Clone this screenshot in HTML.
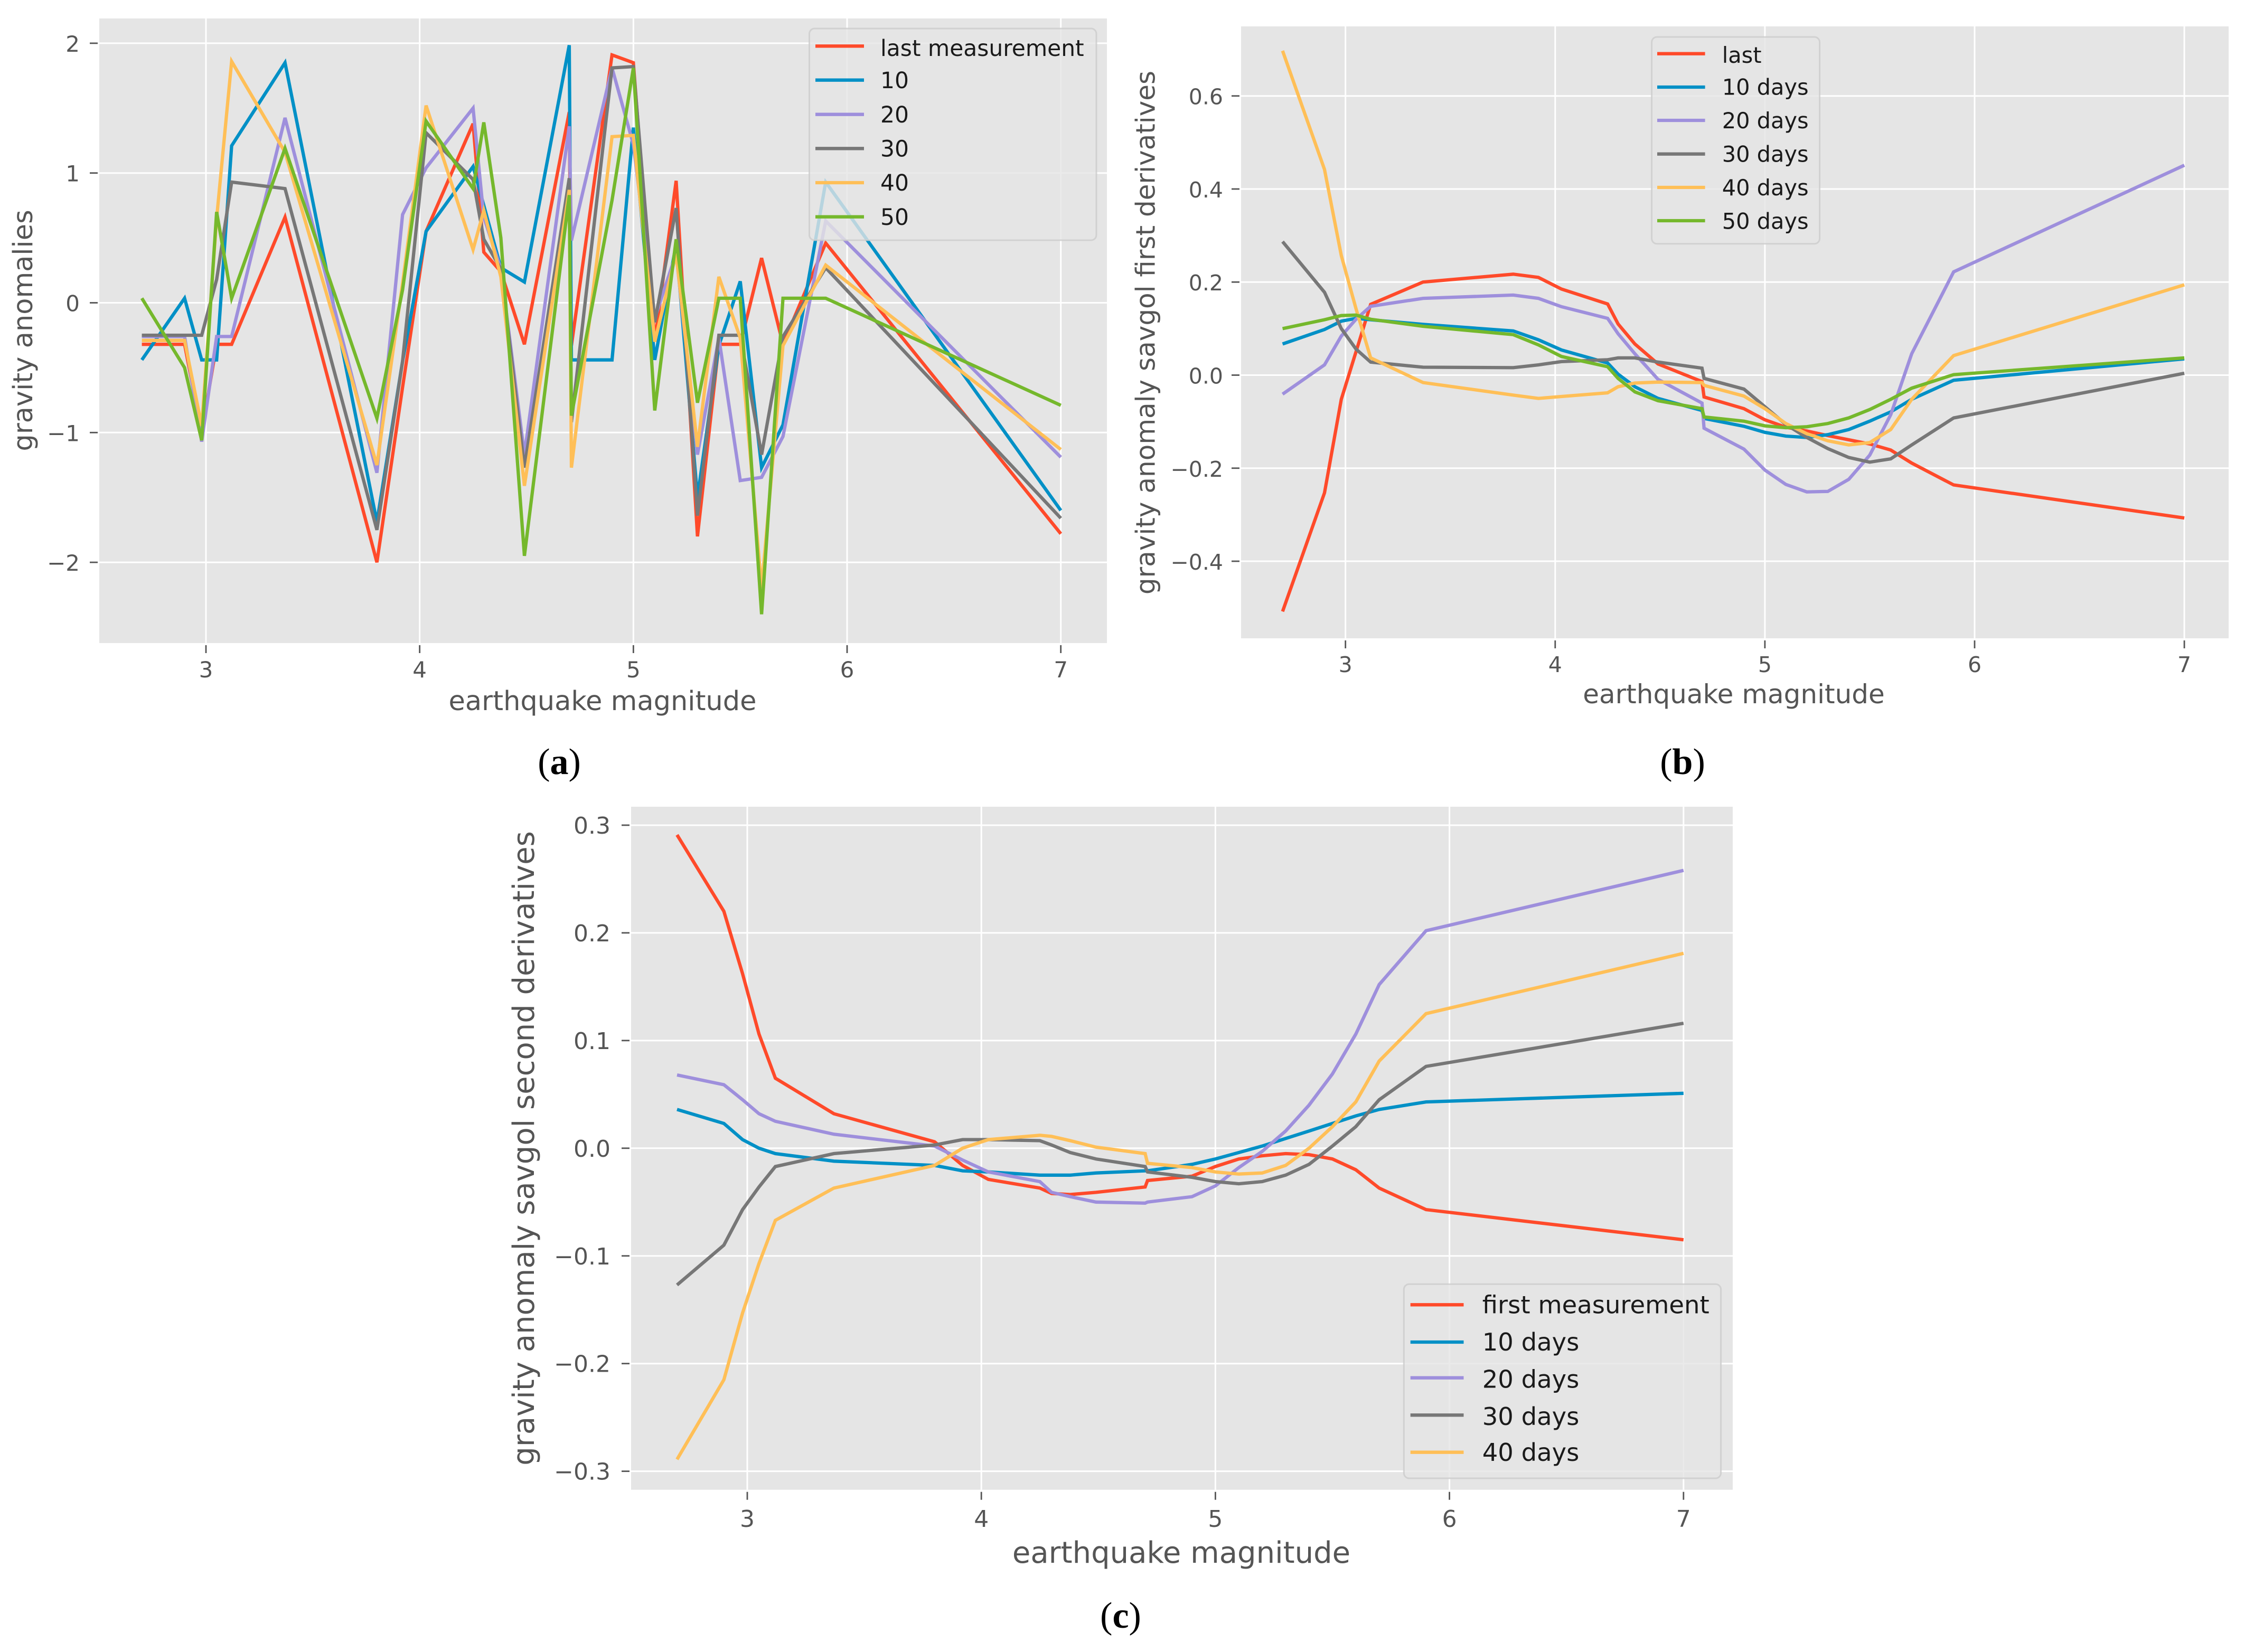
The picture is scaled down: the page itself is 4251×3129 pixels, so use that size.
<!DOCTYPE html>
<html lang="en">
<head>
<meta charset="utf-8">
<title>Gravity anomalies versus earthquake magnitude</title>
<style>
html,body{margin:0;padding:0;background:#fff;width:4251px;height:3129px;overflow:hidden}
svg{display:block}
text{font-family:"DejaVu Sans","Liberation Sans",sans-serif}
.plot{fill:#e5e5e5}
.grid{stroke:#fff;stroke-width:3}
.tick{stroke:#555;stroke-width:2.8}
.ticklabel{fill:#555}
.axis-title{fill:#555}
.line{fill:none;stroke-width:6.3;stroke-linejoin:miter;stroke-miterlimit:4}
.red{stroke:#ff4a2a}.blue{stroke:#0090c6}.purple{stroke:#9e8fdc}.gray{stroke:#777}.yellow{stroke:#ffbf57}.green{stroke:#75b82c}
.legend-box{fill:#e5e5e5;fill-opacity:.8;stroke:#ccc;stroke-opacity:.8;stroke-width:3}
.legend-handle{stroke-width:6.3}
.legend-text{fill:#1a1a1a}
.caption{font-family:"Liberation Serif",serif;font-size:70px;fill:#000}
</style>
</head>
<body>
<svg xmlns="http://www.w3.org/2000/svg" width="4251" height="3129" viewBox="0 0 4251 3129">
<rect width="4251" height="3129" fill="#fff"/>

<g>
  <rect class="plot" x="188" y="35" width="1908" height="1183"/>
  <g id="a-axes"></g>
  <g id="a-lines"></g>
  <text class="axis-title" x="1141" y="1345" font-size="51" text-anchor="middle">earthquake magnitude</text>
  <text class="axis-title" transform="translate(61 626) rotate(-90)" font-size="51" text-anchor="middle">gravity anomalies</text>
  <g>
    <rect class="legend-box" x="1532.5" y="54" width="543.5" height="401" rx="10"/>
    <g><line class="legend-handle red" x1="1544" x2="1636" y1="87.3" y2="87.3"/><text class="legend-text" x="1667" y="106" font-size="42.4">last measurement</text></g>
    <g><line class="legend-handle blue" x1="1544" x2="1636" y1="151.7" y2="151.7"/><text class="legend-text" x="1667" y="167" font-size="42.4">10</text></g>
    <g><line class="legend-handle purple" x1="1544" x2="1636" y1="216.7" y2="216.7"/><text class="legend-text" x="1667" y="232" font-size="42.4">20</text></g>
    <g><line class="legend-handle gray" x1="1544" x2="1636" y1="281.3" y2="281.3"/><text class="legend-text" x="1667" y="296.5" font-size="42.4">30</text></g>
    <g><line class="legend-handle yellow" x1="1544" x2="1636" y1="346" y2="346"/><text class="legend-text" x="1667" y="361" font-size="42.4">40</text></g>
    <g><line class="legend-handle green" x1="1544" x2="1636" y1="410.7" y2="410.7"/><text class="legend-text" x="1667" y="426" font-size="42.4">50</text></g>
  </g>
  <text class="caption" x="1059" y="1466" text-anchor="middle">(<tspan font-weight="bold">a</tspan>)</text>
</g>

<g>
  <rect class="plot" x="2350" y="50" width="1870" height="1159"/>
  <g id="b-axes"></g>
  <g id="b-lines"></g>
  <text class="axis-title" x="3283" y="1332" font-size="50" text-anchor="middle">earthquake magnitude</text>
  <text class="axis-title" transform="translate(2186.7 630) rotate(-90)" font-size="50" text-anchor="middle">gravity anomaly savgol first derivatives</text>
  <g>
    <rect class="legend-box" x="3127.6" y="70" width="318" height="391.7" rx="10"/>
    <g><line class="legend-handle red" x1="3138" x2="3228.6" y1="101.7" y2="101.7"/><text class="legend-text" x="3260.7" y="119" font-size="41.5">last</text></g>
    <g><line class="legend-handle blue" x1="3138" x2="3228.6" y1="165" y2="165"/><text class="legend-text" x="3260.7" y="179.7" font-size="41.5">10 days</text></g>
    <g><line class="legend-handle purple" x1="3138" x2="3228.6" y1="228" y2="228"/><text class="legend-text" x="3260.7" y="243" font-size="41.5">20 days</text></g>
    <g><line class="legend-handle gray" x1="3138" x2="3228.6" y1="291.7" y2="291.7"/><text class="legend-text" x="3260.7" y="306.5" font-size="41.5">30 days</text></g>
    <g><line class="legend-handle yellow" x1="3138" x2="3228.6" y1="355" y2="355"/><text class="legend-text" x="3260.7" y="370" font-size="41.5">40 days</text></g>
    <g><line class="legend-handle green" x1="3138" x2="3228.6" y1="418" y2="418"/><text class="legend-text" x="3260.7" y="433.5" font-size="41.5">50 days</text></g>
  </g>
  <text class="caption" x="3186" y="1466" text-anchor="middle">(<tspan font-weight="bold">b</tspan>)</text>
</g>

<g>
  <rect class="plot" x="1195" y="1528" width="2086" height="1293.7"/>
  <g id="c-axes"></g>
  <g id="c-lines"></g>
  <text class="axis-title" x="2237" y="2960" font-size="56" text-anchor="middle">earthquake magnitude</text>
  <text class="axis-title" transform="translate(1011 2175) rotate(-90)" font-size="56" text-anchor="middle">gravity anomaly savgol second derivatives</text>
  <g>
    <rect class="legend-box" x="2658.3" y="2432.3" width="600.3" height="367.7" rx="10"/>
    <g><line class="legend-handle red" x1="2670.7" x2="2771.5" y1="2471.3" y2="2471.3"/><text class="legend-text" x="2806.7" y="2487.7" font-size="46.5">first measurement</text></g>
    <g><line class="legend-handle blue" x1="2670.7" x2="2771.5" y1="2542" y2="2542"/><text class="legend-text" x="2806.7" y="2558" font-size="46.5">10 days</text></g>
    <g><line class="legend-handle purple" x1="2670.7" x2="2771.5" y1="2609.7" y2="2609.7"/><text class="legend-text" x="2806.7" y="2628.5" font-size="46.5">20 days</text></g>
    <g><line class="legend-handle gray" x1="2670.7" x2="2771.5" y1="2680.3" y2="2680.3"/><text class="legend-text" x="2806.7" y="2699" font-size="46.5">30 days</text></g>
    <g><line class="legend-handle yellow" x1="2670.7" x2="2771.5" y1="2750.7" y2="2750.7"/><text class="legend-text" x="2806.7" y="2767" font-size="46.5">40 days</text></g>
  </g>
  <text class="caption" x="2122" y="3083" text-anchor="middle">(<tspan font-weight="bold">c</tspan>)</text>
</g>
</svg>

<script>
// Shared categories and tick values
const magnitudes = [2.7,2.9,2.98,3.05,3.12,3.37,3.8,3.92,4.03,4.25,4.3,4.38,4.49,4.7,4.71,4.9,5,5.1,5.2,5.3,5.4,5.5,5.6,5.7,5.9,7];
const xTicks = [3,4,5,6,7];

// Panel (a): gravity anomalies
const aYTicks = [-2,-1,0,1,2];
const aLast = [-.32,-.32,-1,-.32,-.32,.66,-2,-.65,.55,1.38,.39,.24,-.32,1.47,-.33,1.91,1.85,-.3,.94,-1.8,-.32,-.32,.345,-.32,.46,-1.78];
const a10 = [-.44,.035,-.44,-.44,1.21,1.85,-1.69,-.45,.55,1.05,.75,.27,.16,1.985,-.44,-.44,1.35,-.44,.45,-1.5,-.33,.165,-1.27,-.94,.93,-1.6];
const a20 = [-.26,-.26,-1.07,-.26,-.26,1.425,-1.31,.68,1.04,1.5,.66,.26,-1.17,1.36,.48,1.81,1.22,-.12,.38,-1.17,-.27,-1.37,-1.345,-1.03,.63,-1.19];
const a30 = [-.25,-.25,-.25,.18,.93,.88,-1.75,-.45,1.31,.95,.49,.26,-1.27,.96,-.92,1.81,1.82,-.15,.73,-1.64,-.25,-.25,-1.17,-.26,.27,-1.66];
const a40 = [-.29,-.29,-.95,.65,1.86,1.16,-1.25,.15,1.52,.41,.71,.2,-1.41,.87,-1.27,1.28,1.29,-.3,.38,-1.11,.2,-.27,-2.2,-.33,.29,-1.13];
const a50 = [.035,-.5,-1.06,.7,.035,1.19,-.89,.1,1.4,.88,1.39,.5,-1.95,.83,-.87,.79,1.81,-.83,.49,-.77,.035,.035,-2.4,.035,.035,-.79];

// Panel (b): first derivatives
const bYTicks = [-.4,-.2,0,.2,.4,.6];
const bLast = [-.508,-.253,-.052,.05,.152,.2,.217,.21,.185,.153,.11,.067,.024,-.014,-.047,-.072,-.096,-.112,-.12,-.13,-.139,-.148,-.161,-.189,-.236,-.307];
const b10 = [.067,.098,.116,.122,.119,.109,.095,.076,.054,.026,.002,-.025,-.05,-.076,-.093,-.11,-.123,-.131,-.134,-.128,-.117,-.099,-.079,-.052,-.011,.035];
const b20 = [-.041,.022,.084,.12,.148,.165,.172,.165,.147,.122,.089,.046,-.009,-.06,-.114,-.159,-.204,-.235,-.251,-.25,-.224,-.172,-.085,.046,.222,.451];
const b30 = [.287,.178,.1,.056,.028,.017,.016,.022,.029,.033,.037,.037,.028,.015,-.007,-.03,-.068,-.106,-.134,-.158,-.177,-.187,-.18,-.15,-.092,.004];
const b40 = [.697,.442,.257,.143,.037,-.016,-.043,-.05,-.046,-.038,-.025,-.017,-.015,-.016,-.022,-.045,-.072,-.104,-.126,-.141,-.15,-.145,-.117,-.052,.042,.194];
const b50 = [.1,.119,.128,.129,.12,.105,.087,.065,.04,.018,-.007,-.036,-.055,-.072,-.09,-.099,-.109,-.113,-.111,-.104,-.092,-.074,-.052,-.028,.001,.037];

// Panel (c): second derivatives
const cYTicks = [-.3,-.2,-.1,0,.1,.2,.3];
const cFirst = [.291,.22,.162,.106,.065,.032,.006,-.016,-.029,-.037,-.042,-.043,-.041,-.036,-.03,-.026,-.017,-.01,-.007,-.005,-.006,-.01,-.02,-.037,-.057,-.085];
const c10 = [.036,.023,.008,0,-.005,-.012,-.016,-.021,-.022,-.025,-.025,-.025,-.023,-.021,-.021,-.015,-.01,-.004,.002,.009,.016,.023,.03,.036,.043,.051];
const c20 = [.068,.059,.045,.032,.025,.013,.002,-.011,-.022,-.031,-.041,-.045,-.05,-.051,-.05,-.045,-.035,-.018,-.003,.016,.04,.069,.106,.152,.202,.258];
const c30 = [-.127,-.09,-.057,-.036,-.017,-.005,.003,.008,.008,.007,.003,-.004,-.01,-.017,-.022,-.027,-.031,-.033,-.031,-.025,-.015,.002,.02,.045,.076,.116];
const c40 = [-.289,-.215,-.153,-.107,-.067,-.037,-.016,0,.008,.012,.011,.007,.001,-.005,-.014,-.018,-.022,-.024,-.023,-.016,0,.02,.043,.081,.125,.181];

const SVGNS = 'http://www.w3.org/2000/svg';

function xAxis(x3, unit) {
  return function (v) { return x3 + (v - 3) * unit; };
}
function yAxis(y0, unit) {
  return function (v) { return y0 - v * unit; };
}
function shape(tag, parent) {
  const el = document.createElementNS(SVGNS, tag);
  parent.appendChild(el);
  return el;
}

function drawAxes(id, cfg) {
  const g = document.getElementById(id + '-axes');
  xTicks.forEach(function (t) {
    const px = cfg.x(t);
    const grid = shape('line', g);
    
    
    grid.setAttribute('class', 'grid');
    grid.setAttribute('x1', px); grid.setAttribute('x2', px);
    grid.setAttribute('y1', cfg.top); grid.setAttribute('y2', cfg.bottom);
    const tick = shape('line', g);
    
    
    tick.setAttribute('class', 'tick');
    tick.setAttribute('x1', px); tick.setAttribute('x2', px);
    tick.setAttribute('y1', cfg.bottom + 4); tick.setAttribute('y2', cfg.bottom + 19);
    const label = shape('text', g);
    
    
    label.setAttribute('class', 'ticklabel');
    label.setAttribute('x', px); label.setAttribute('y', cfg.xLabelY);
    label.setAttribute('font-size', cfg.tickSize);
    label.setAttribute('text-anchor', 'middle');
    label.textContent = String(t);
  });
  cfg.yTicks.forEach(function (t) {
    const py = cfg.y(t);
    const grid = shape('line', g);
    
    
    grid.setAttribute('class', 'grid');
    grid.setAttribute('x1', cfg.left); grid.setAttribute('x2', cfg.right);
    grid.setAttribute('y1', py); grid.setAttribute('y2', py);
    const tick = shape('line', g);
    
    
    tick.setAttribute('class', 'tick');
    tick.setAttribute('x1', cfg.left - 18); tick.setAttribute('x2', cfg.left - 3);
    tick.setAttribute('y1', py); tick.setAttribute('y2', py);
    const label = shape('text', g);
    
    
    label.setAttribute('class', 'ticklabel');
    label.setAttribute('x', cfg.yLabelX); label.setAttribute('y', py + 16);
    label.setAttribute('font-size', cfg.tickSize);
    label.setAttribute('text-anchor', 'end');
    label.textContent = t.toFixed(cfg.decimals).replace('-', '\u2212');
  });
}

function drawSeries(id, cfg, list) {
  const g = document.getElementById(id + '-lines');
  list.forEach(function (s) {
    const d = s.values.map(function (v, i) {
      return (i ? 'L' : 'M') + cfg.x(magnitudes[i]).toFixed(1) + ' ' + cfg.y(v).toFixed(1);
    }).join(' ');
    const path = shape('path', g);
    
    
    path.setAttribute('class', 'line ' + s.cls);
    path.setAttribute('d', d);
  });
}

const panelA = { x: xAxis(390, 404.67), y: yAxis(573.5, 245.8), left: 188, right: 2096, top: 35, bottom: 1218, yTicks: aYTicks, decimals: 0, tickSize: 42, xLabelY: 1283, yLabelX: 151 };
const panelB = { x: xAxis(2547.7, 397.1), y: yAxis(710.5, 881.3), left: 2350, right: 4220, top: 50, bottom: 1209, yTicks: bYTicks, decimals: 1, tickSize: 41, xLabelY: 1273, yLabelX: 2316 };
const panelC = { x: xAxis(1415, 443.2), y: yAxis(2174.8, 2039.5), left: 1195, right: 3281, top: 1528, bottom: 2821.7, yTicks: cYTicks, decimals: 1, tickSize: 44, xLabelY: 2892, yLabelX: 1156 };

drawAxes('a', panelA);
drawAxes('b', panelB);
drawAxes('c', panelC);

drawSeries('a', panelA, [
  { name: 'last-measurement', cls: 'red', values: aLast },
  { name: '10', cls: 'blue', values: a10 },
  { name: '20', cls: 'purple', values: a20 },
  { name: '30', cls: 'gray', values: a30 },
  { name: '40', cls: 'yellow', values: a40 },
  { name: '50', cls: 'green', values: a50 }
]);
drawSeries('b', panelB, [
  { name: 'last', cls: 'red', values: bLast },
  { name: '10-days', cls: 'blue', values: b10 },
  { name: '20-days', cls: 'purple', values: b20 },
  { name: '30-days', cls: 'gray', values: b30 },
  { name: '40-days', cls: 'yellow', values: b40 },
  { name: '50-days', cls: 'green', values: b50 }
]);
drawSeries('c', panelC, [
  { name: 'first-measurement', cls: 'red', values: cFirst },
  { name: '10-days', cls: 'blue', values: c10 },
  { name: '20-days', cls: 'purple', values: c20 },
  { name: '30-days', cls: 'gray', values: c30 },
  { name: '40-days', cls: 'yellow', values: c40 }
]);
</script>
</body>
</html>
